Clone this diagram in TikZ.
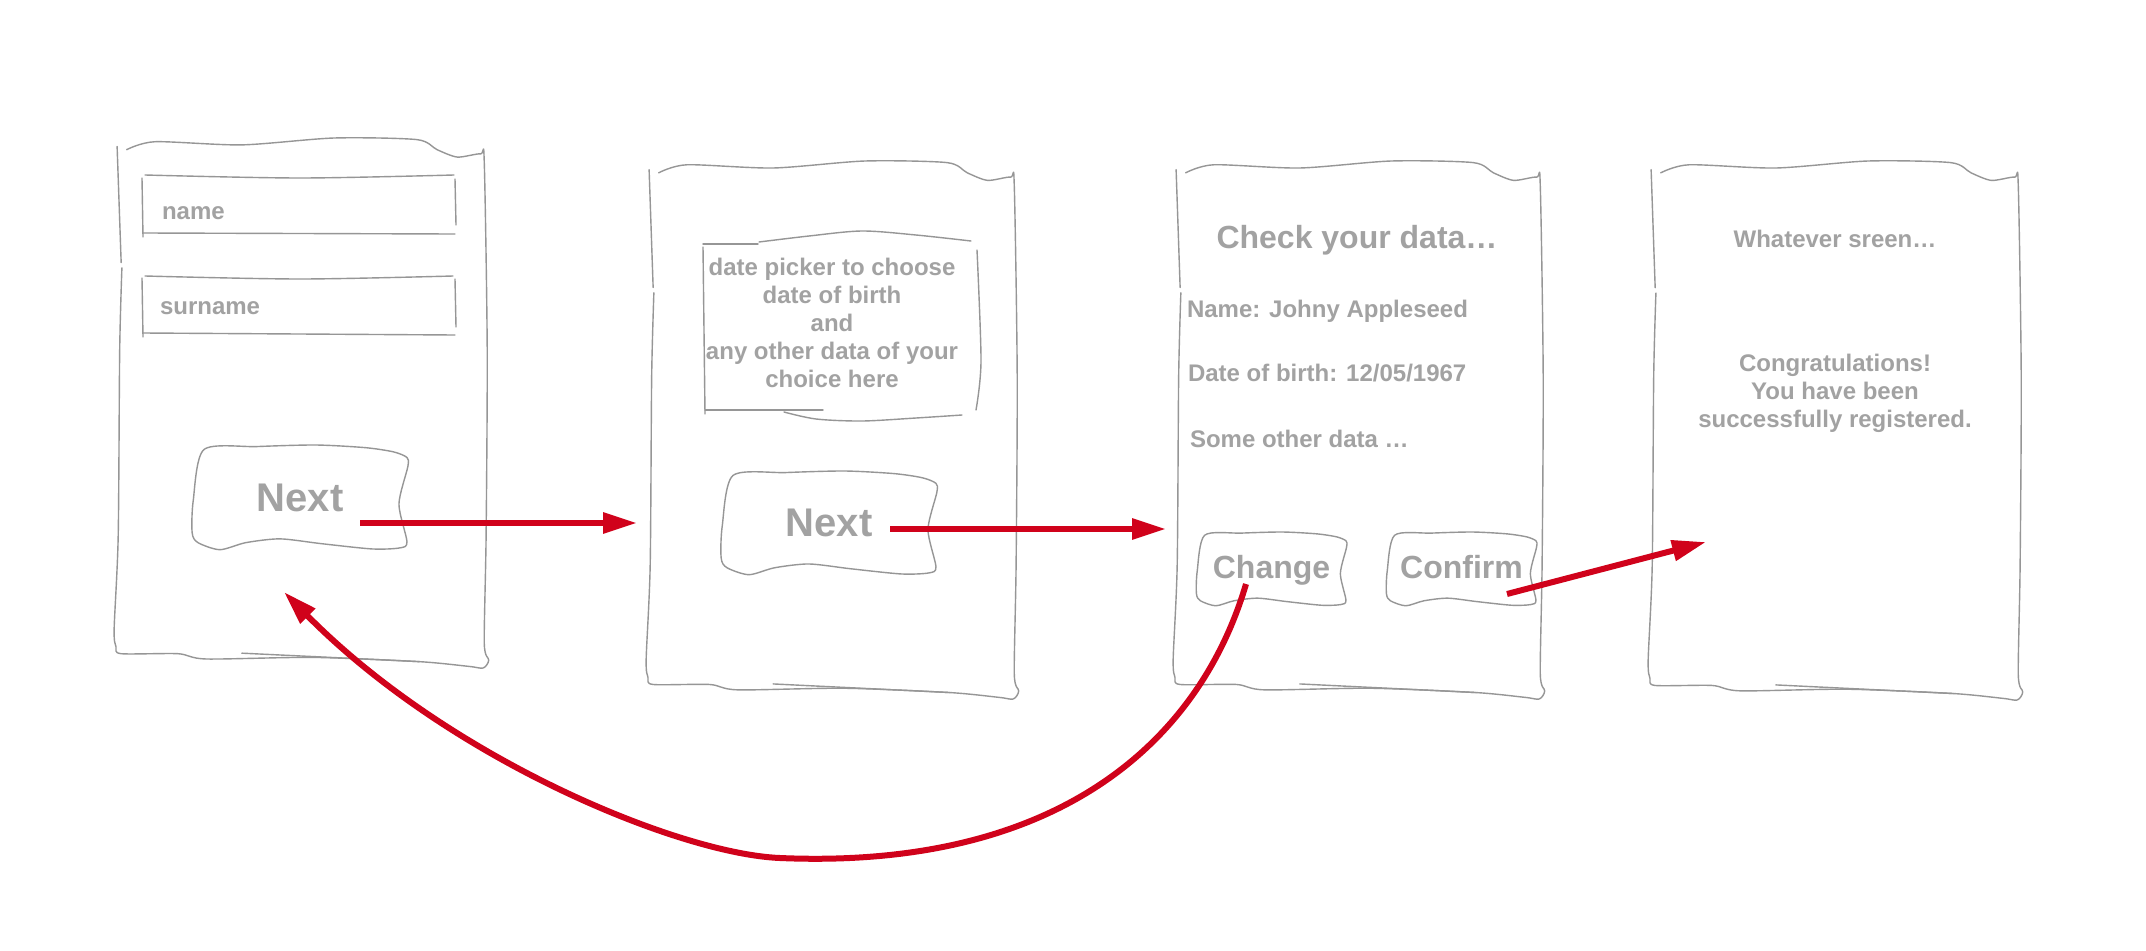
\documentclass[tikz,border=0pt]{standalone}
\usepackage{fontspec}
\setmainfont{Liberation Sans}
\usetikzlibrary{arrows.meta,calc}
\definecolor{txtgray}{RGB}{162,162,162}
\definecolor{linegray}{RGB}{150,150,150}
\definecolor{flowred}{RGB}{208,2,27}
\tikzset{
  sketch/.style={draw=linegray, line width=1.4pt, line join=round, line cap=round},
  panel/.style={draw=none, inner sep=0pt, outer sep=0pt},
  lbl/.style={text=txtgray, inner sep=0pt, outer sep=0pt, font=\bfseries\fontsize{24}{28}\selectfont},
  titlelbl/.style={lbl, font=\bfseries\fontsize{32}{38}\selectfont},
  bigbtn/.style={lbl, font=\bfseries\fontsize{40}{46}\selectfont, text height=27pt, text depth=0pt},
  midbtn/.style={lbl, font=\bfseries\fontsize{32}{38}\selectfont, text height=18pt, text depth=0pt},
  flow/.style={draw=flowred, line width=6pt, -{Triangle[length=34pt,width=20pt]}},
}
\newcommand\panelsketch[3]{%
  \begin{scope}[shift={(#1.north west)},xscale=#2/100,yscale=#3/100]
    \draw[sketch] plot[smooth,tension=0.45] coordinates {(2.9,2.2) (10.6,0.7) (34.1,1.3) (59.1,0) (81.5,0.3) (87,2.2) (92.5,3.6) (98.8,3.0) (99.8,4.6) (100.6,40) (100.3,75) (99.8,95.3) (101,98.5) (99.5,100) (95.7,99.7) (82.2,98.8) (53.4,98) (24.5,98.3) (16.8,97.3) (1.4,97.3) (0,96) (-0.5,92.6) (0.6,75) (1,40) (1.6,24.5)};
    \draw[sketch] (0.3,1.6) -- (1.4,23.5);
    \draw[sketch] (34.1,97.2) -- (82.2,98.8);
  \end{scope}}
\newcommand\btnsketch[3]{%
  \begin{scope}[shift={(#1.north west)},xscale=#2/100,yscale=#3/100]
    \draw[sketch] plot[smooth cycle,tension=0.45] coordinates {(5.7,4.4) (30,1.5) (57.2,0) (80,2.5) (93,6.5) (99.3,11.9) (99.7,20.5) (95.6,56.3) (99.3,92.2) (96,98) (83.3,99) (60,94) (40.8,89.4) (25,93) (13.1,99.7) (3,93) (0.3,83.6) (0.8,52.9)};
  \end{scope}}
\begin{document}
\begin{tikzpicture}[x=1pt,y=-1pt]
\useasboundingbox[fill=white] (0,0) rectangle (2146,950);

% panels (screens)
\node[panel, minimum width=369pt, minimum height=530pt] (p1) at (300.5,403) {};
\node[panel, minimum width=367pt, minimum height=538pt] (p2) at (831.5,430) {};
\node[panel, minimum width=366pt, minimum height=538pt] (p3) at (1358,430) {};
\node[panel, minimum width=369pt, minimum height=539pt] (p4) at (1834.5,430.5) {};
\panelsketch{p1}{369}{530}
\panelsketch{p2}{367}{538}
\panelsketch{p3}{366}{538}
\panelsketch{p4}{369}{539}

% panel 1: input fields
\draw[sketch] plot[smooth] coordinates {(145,175) (300,178) (454,175)};
\draw[sketch] (142,178) -- (143,237);
\draw[sketch] (143,233) -- (455,234);
\draw[sketch] (455,179) -- (456,225);
\node[lbl, anchor=base west] (fname) at (162,219) {name};
\draw[sketch] plot[smooth] coordinates {(145,276) (300,279) (453,276)};
\draw[sketch] (142,278) -- (143,337);
\draw[sketch] (143,333) -- (455,335);
\draw[sketch] (455,279) -- (456,327);
\node[lbl, anchor=base west] (fsurname) at (160,314) {surname};

% buttons
\node[bigbtn, minimum width=217pt, minimum height=105pt] (next1) at (300,497.5) {Next};
\btnsketch{next1}{217}{105}
\node[bigbtn, minimum width=217pt, minimum height=104pt] (next2) at (829,523) {Next};
\btnsketch{next2}{217}{104}
\node[midbtn, minimum width=151pt, minimum height=74pt] (change) at (1271.5,569) {Change};
\btnsketch{change}{151}{74}
\node[midbtn, minimum width=151pt, minimum height=74pt] (confirm) at (1461.5,569) {Confirm};
\btnsketch{confirm}{151}{74}

% panel 2: date picker
\draw[sketch] (703,247) -- (705,414);
\draw[sketch] (703,244) -- (758,244);
\draw[sketch] plot[smooth,tension=0.5] coordinates {(759,242) (809,236) (862,231) (916,235) (971,241)};
\draw[sketch] plot[smooth,tension=0.5] coordinates {(977,250) (981,361) (976,410)};
\draw[sketch] (705,410) -- (823,410);
\draw[sketch] plot[smooth,tension=0.5] coordinates {(784,412) (816,419) (862,421) (916,418) (962,415)};
\node[lbl, align=center, anchor=north] (picker) at (832,258.5) {date picker to choose\\date of birth\\and\\any other data of your\\choice here};

% panel 3: texts
\node[titlelbl, anchor=base] (checktitle) at (1357,248) {Check your data…};
\node[lbl, anchor=base west] (dname) at (1187,317) {Name: Johny Appleseed};
\node[lbl, anchor=base west] (dbirth) at (1188,381) {Date of birth: 12/05/1967};
\node[lbl, anchor=base west] (dother) at (1190,447) {Some other data …};

% panel 4: texts
\node[lbl, anchor=base] (whatever) at (1835,247) {Whatever sreen…};
\node[lbl, align=center, anchor=north] (congrats) at (1835,354) {Congratulations!\\You have been\\successfully registered.};

% connectors
\coordinate (in2) at (637,523);
\coordinate (in3) at (1166,529);
\coordinate (in4) at (1706,542);
\coordinate (back1) at (284,592);
\draw[flow] ($(next1.center)+(60,25.5)$) -- (in2);
\draw[flow] ($(next2.center)+(61,6)$) -- (in3);
\draw[flow] ($(confirm.center)+(45.5,25)$) -- (in4);
\draw[flow] ($(change.center)+(-25.5,15)$) .. controls (1200,740) and (1060,870) .. (780,858) .. controls (680,854) and (450,760) .. (back1);
\end{tikzpicture}
\end{document}
